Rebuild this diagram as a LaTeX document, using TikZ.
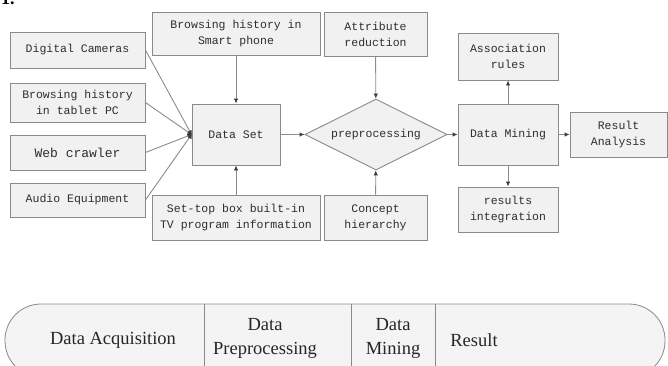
\documentclass[tikz,border=0pt]{standalone}
\usepackage{fontspec}
\setmainfont{Liberation Serif}
\newfontfamily\monof{Liberation Mono}
\usetikzlibrary{shapes.geometric,arrows.meta}
\definecolor{boxfill}{HTML}{F1F1F1}
\definecolor{boxline}{HTML}{8A8A8A}
\definecolor{linec}{HTML}{8C8C8C}
\definecolor{tipc}{HTML}{3C3C3C}
\definecolor{txtc}{HTML}{2E2E2E}
\definecolor{barfill}{HTML}{F4F4F4}
\tikzset{
  srcbox/.style={draw=boxline, fill=boxfill, line width=0.9pt, rectangle, inner sep=0pt,
    align=center, text=txtc, font=\monof\fontsize{11.5}{16}\selectfont},
  conn/.style={draw=linec, line width=0.9pt},
  arr/.style={conn, -{Latex[length=5pt,width=4.5pt,color=tipc]}},
  barlabel/.style={text=black!85, font=\fontsize{18.5}{24}\selectfont, align=center, inner sep=0pt}
}
\begin{document}
\begin{tikzpicture}[x=1pt,y=-1pt]
\useasboundingbox (0,0) rectangle (668,365);
\clip (0,0) rectangle (668,365);
\fill[white] (0,0) rectangle (668,365);
% cut caption remnant
\node[anchor=base west, inner sep=0pt, font=\bfseries\fontsize{18}{18}\selectfont] (cap) at (1,4) {1.};
% sources
\node[srcbox, minimum width=135pt, minimum height=36pt] (dc) at (77.5,50) {Digital Cameras};
\node[srcbox, minimum width=135pt, minimum height=39pt] (tab) at (77.5,102.5) {Browsing history\\in tablet PC};
\node[srcbox, minimum width=135pt, minimum height=35pt, font=\monof\fontsize{13}{16}\selectfont] (web) at (77.5,152.5) {Web crawler};
\node[srcbox, minimum width=135pt, minimum height=34pt] (aud) at (77.5,200) {Audio Equipment};
\node[srcbox, minimum width=168pt, minimum height=43pt] (phone) at (236,33.5) {Browsing history in\\Smart phone};
\node[srcbox, minimum width=88pt, minimum height=61pt] (ds) at (236,134.5) {Data Set};
\node[srcbox, minimum width=168pt, minimum height=45pt] (stb) at (236,217.5) {Set-top box built-in\\TV program information};
\node[srcbox, minimum width=103pt, minimum height=44pt] (attr) at (375.5,34) {Attribute\\reduction};
\node[srcbox, minimum width=103pt, minimum height=45pt] (conc) at (375.5,217.5) {Concept\\hierarchy};
\node[srcbox, shape=diamond, minimum width=142pt, minimum height=71pt, label={[text=txtc, font=\monof\fontsize{11.5}{16}\selectfont]center:preprocessing}] (pre) at (376,134.5) {};
\node[srcbox, minimum width=100pt, minimum height=61pt] (dm) at (508,134.5) {Data Mining};
\node[srcbox, minimum width=100pt, minimum height=47pt] (assoc) at (508,56.5) {Association\\rules};
\node[srcbox, minimum width=100pt, minimum height=45pt] (resint) at (508,209.5) {results\\integration};
\node[srcbox, minimum width=97pt, minimum height=45pt] (res) at (618.5,134.5) {Result\\Analysis};
% converging lines
\draw[conn] (dc.east) -- (ds.west);
\draw[conn] (tab.east) -- (ds.west);
\draw[conn] (web.east) -- (ds.west);
\draw[conn] (aud.east) -- (ds.west);
\fill[tipc] (ds.west) ++(0pt,4.5pt) arc[start angle=90, end angle=270, radius=4.5pt] -- cycle;
% arrows
\draw[arr] (phone) -- (ds);
\draw[arr] (stb) -- (ds);
\draw[arr] (ds) -- (pre);
\draw[arr] (attr) -- (pre);
\draw[arr] (conc) -- (pre);
\draw[arr] (pre) -- (dm);
\draw[arr] (dm) -- (assoc);
\draw[arr] (dm) -- (resint);
\draw[arr] (dm) -- (res);
% bottom bar
\draw[draw=boxline, fill=barfill, line width=0.8pt, rounded corners=36pt] (5,304) rectangle (665,377);
\draw[draw=boxline, line width=0.8pt] (204,304) -- (204,377);
\draw[draw=boxline, line width=0.8pt] (351,304) -- (351,377);
\draw[draw=boxline, line width=0.8pt] (435,304) -- (435,377);
\node[barlabel] (bacq) at (113,340) {Data Acquisition};
\node[barlabel] (bpre) at (265,338) {Data\\Preprocessing};
\node[barlabel] (bmin) at (393,338) {Data\\Mining};
\node[barlabel] (bres) at (474,340) {Result};
\end{tikzpicture}
\end{document}
